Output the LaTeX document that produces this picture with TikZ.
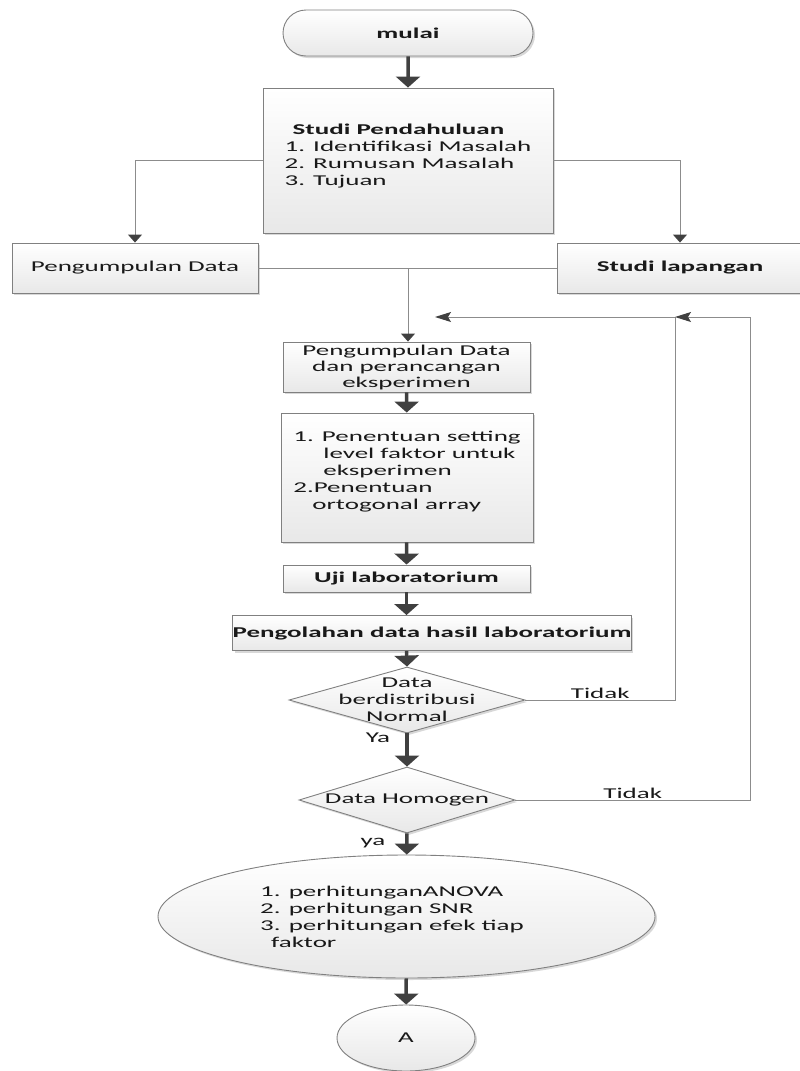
\documentclass[tikz,border=0pt]{standalone}
\usepackage{fontspec}
\setmainfont{Carlito}[FakeStretch=1.8]
\usetikzlibrary{shapes.geometric,shapes.misc,arrows.meta,shadows}

\begin{document}
\begin{tikzpicture}[x=1pt,y=-1pt,
	txt/.style={font=\fontsize{15}{17}\selectfont, text=black!90},
	box/.style={txt, draw=black!50, line width=0.9pt, top color=white, bottom color=black!9,
		drop shadow={shadow xshift=2pt, shadow yshift=-2pt, fill=black!30, opacity=0.5}, inner sep=0pt},
	term/.style={box, rounded rectangle},
	decision/.style={box, diamond, inner sep=0pt},
	flow/.style={draw=black!75, line width=3.5pt, -{Triangle[width=24pt,length=11pt]}},
	link/.style={draw=black!45, line width=1pt, -{Triangle[width=14pt,length=8pt,color=black!75]}},
	feedback/.style={draw=black!45, line width=1pt, -{Stealth[width=10pt,length=16pt,inset=3pt,color=black!75]}},
	line/.style={draw=black!45, line width=1pt},
	lbl/.style={txt, inner sep=1pt},
	tidak/.style={lbl, fill=white, inner sep=2pt, yshift=7pt}]
	\useasboundingbox (0,0) rectangle (800,1071);

	\node[term, minimum width=250pt, minimum height=46pt] (mulai) at (408,33) {\textbf{mulai}};
	\node[box, minimum width=290pt, minimum height=145pt, align=left] (studi) at (408,160.5)
		{\hspace*{8pt}\textbf{Studi Pendahuluan}\\1. Identifikasi Masalah\\2. Rumusan Masalah\\3. Tujuan\\[-6pt]\mbox{}};
	\node[box, minimum width=246pt, minimum height=50pt] (pengumpulan) at (135,268) {Pengumpulan Data};
	\node[box, minimum width=246pt, minimum height=50pt] (lapangan) at (680,268) {\textbf{Studi lapangan}};
	\coordinate (join) at (408,268);

	\node[box, minimum width=247pt, minimum height=50pt, align=center] (desain) at (406.5,367)
		{Pengumpulan Data\\[-1pt]dan perancangan\\[-1pt]eksperimen};
	\node[box, minimum width=252pt, minimum height=129pt, align=left] (setting) at (407,477.5)
		{1. Penentuan setting\\\hspace*{30pt}level faktor untuk\\\hspace*{30pt}eksperimen\\2.Penentuan\\\hspace*{19pt}ortogonal array\\[-2pt]\mbox{}};
	\node[box, minimum width=247pt, minimum height=27pt] (uji) at (406.5,578.5) {\textbf{Uji laboratorium}};
	\node[box, minimum width=390pt, minimum height=35pt] (olah) at (432,633) {\textbf{Pengolahan data hasil laboratorium}};

	\node[decision, minimum width=236pt, minimum height=66pt] (normal) at (407,700) {};
	\node[txt, align=center, inner sep=0pt] (normaltext) at (normal) {Data\\berdistribusi\\Normal};
	\node[decision, minimum width=216pt, minimum height=66pt] (homogen) at (407,800) {};
	\node[txt, inner sep=0pt] (homogentext) at (homogen) {Data Homogen};

	\node[box, ellipse, minimum width=497pt, minimum height=123pt] (hitung) at (406.5,916.5) {};
	\node[txt, align=left, inner sep=0pt] (hitungtext) at (392,917)
		{1. perhitunganANOVA\\2. perhitungan SNR\\3. perhitungan efek tiap\\\hspace*{11pt}faktor};
	\node[box, ellipse, minimum width=138pt, minimum height=66pt] (A) at (406,1038) {A};

	\coordinate (fb1) at (675,317);
	\coordinate (fb2) at (750,317);
	\coordinate (back1) at (435,317);

	\draw[flow] (mulai) -- (studi);
	\draw[link] (studi.west) -| (pengumpulan.north);
	\draw[link] (studi.east) -| (lapangan.north);
	\draw[line] (pengumpulan.east) -- (lapangan.west);
	\draw[link] (join) -- (join |- desain.north);
	\draw[flow] (desain) -- (setting);
	\draw[flow] (setting) -- (uji);
	\draw[flow] (uji.south) -- (uji.south |- olah.north);
	\draw[flow] (uji.south |- olah.south) -- (normal.north);
	\draw[flow] (normal) -- (homogen);
	\draw[flow] (homogen) -- (hitung);
	\draw[flow] (hitung) -- (A);

	\draw[feedback] (normal.east) -- node[tidak] (tidak1) {Tidak} (normal.east -| fb1) -- (fb1) -- (back1);
	\draw[feedback] (homogen.east) -- node[tidak] (tidak2) {Tidak} (homogen.east -| fb2) -- (fb2) -- (fb1);
	\node[lbl] (ya1) at (378,738) {Ya};
	\node[lbl] (ya2) at (373,843) {ya};
\end{tikzpicture}
\end{document}
